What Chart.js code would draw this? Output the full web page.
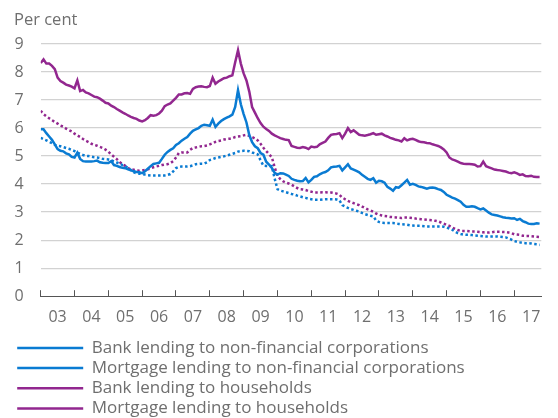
<!DOCTYPE html>
<html>
<head>
<meta charset="utf-8">
<script src="https://cdn.jsdelivr.net/npm/chart.js@4"></script>
<style>
  html, body { margin: 0; padding: 0; background: #fff; overflow: hidden; }
  #wrap { width: 558px; height: 427px; }
</style>
</head>
<body>
<div id="wrap"><canvas id="chart" width="558" height="427"></canvas></div>
<script>
// monthly values, Jan 2003 onwards
const startYear = 2003;
const yearLabels = ['03', '04', '05', '06', '07', '08', '09', '10', '11', '12', '13', '14', '15', '16', '17'];
const seriesNames = [
  'Bank lending to non-financial corporations',
  'Mortgage lending to non-financial corporations',
  'Bank lending to households',
  'Mortgage lending to households'
];

const nfcBank = [
  5.96, 5.96, 5.82, 5.70, 5.58, 5.42, 5.25, 5.19, 5.17, 5.10, 5.06, 4.97,
  4.95, 5.12, 4.90, 4.82, 4.81, 4.81, 4.81, 4.82, 4.84, 4.78, 4.76, 4.75,
  4.75, 4.82, 4.68, 4.65, 4.61, 4.58, 4.57, 4.53, 4.49, 4.46, 4.43, 4.42,
  4.39, 4.46, 4.55, 4.64, 4.72, 4.74, 4.76, 4.90, 5.05, 5.15, 5.22, 5.28,
  5.40, 5.46, 5.55, 5.62, 5.68, 5.80, 5.90, 5.95, 6.00, 6.08, 6.12, 6.10,
  6.08, 6.30, 6.04, 6.16, 6.25, 6.32, 6.37, 6.42, 6.48, 6.75, 7.35, 6.85,
  6.50, 6.20, 5.75, 5.50, 5.35, 5.28, 5.11, 5.05, 4.80, 4.70, 4.58, 4.40,
  4.34, 4.39, 4.38, 4.34, 4.29, 4.19, 4.15, 4.12, 4.10, 4.11, 4.22, 4.06,
  4.15, 4.26, 4.28, 4.35, 4.40, 4.43, 4.49, 4.60, 4.62, 4.63, 4.65, 4.49,
  4.60, 4.71, 4.56, 4.52, 4.47, 4.42, 4.33, 4.26, 4.19, 4.15, 4.21, 4.05,
  4.12, 4.10, 4.05, 3.90, 3.84, 3.76, 3.89, 3.87, 3.96, 4.05, 4.15, 3.98,
  4.01, 3.97, 3.92, 3.90, 3.87, 3.84, 3.87, 3.88, 3.86, 3.82, 3.79, 3.72,
  3.62, 3.57, 3.52, 3.48, 3.43, 3.37, 3.26, 3.19, 3.19, 3.21, 3.19, 3.14,
  3.10, 3.13, 3.06, 2.98, 2.92, 2.90, 2.88, 2.85, 2.82, 2.80, 2.79, 2.77,
  2.78, 2.72, 2.76, 2.68, 2.64, 2.59, 2.58, 2.58, 2.60, 2.59
];

const nfcMortgage = [
  5.65, 5.60, 5.56, 5.51, 5.46, 5.40, 5.37, 5.35, 5.32, 5.29, 5.26, 5.22,
  5.18, 5.12, 5.08, 5.04, 5.01, 5.00, 4.98, 4.96, 4.95, 4.93, 4.90, 4.89,
  4.88, 4.85, 4.81, 4.77, 4.73, 4.68, 4.64, 4.58, 4.50, 4.43, 4.38, 4.37,
  4.36, 4.34, 4.32, 4.31, 4.31, 4.31, 4.31, 4.31, 4.31, 4.33, 4.36, 4.45,
  4.57, 4.61, 4.63, 4.63, 4.63, 4.64, 4.67, 4.71, 4.72, 4.73, 4.73, 4.78,
  4.86, 4.89, 4.93, 4.95, 4.97, 4.99, 5.02, 5.05, 5.08, 5.11, 5.16, 5.18,
  5.19, 5.18, 5.17, 5.13, 5.10, 5.06, 4.85, 4.66, 4.65, 4.65, 4.64, 4.20,
  3.82, 3.77, 3.74, 3.71, 3.68, 3.65, 3.63, 3.59, 3.56, 3.53, 3.51, 3.48,
  3.46, 3.44, 3.44, 3.44, 3.45, 3.46, 3.46, 3.46, 3.46, 3.45, 3.42, 3.25,
  3.20, 3.15, 3.11, 3.08, 3.05, 3.02, 2.97, 2.93, 2.90, 2.87, 2.85, 2.70,
  2.65, 2.62, 2.61, 2.61, 2.61, 2.61, 2.60, 2.58, 2.57, 2.56, 2.55, 2.53,
  2.52, 2.51, 2.51, 2.51, 2.50, 2.49, 2.49, 2.49, 2.49, 2.49, 2.49, 2.48,
  2.45, 2.41, 2.37, 2.30, 2.25, 2.22, 2.20, 2.19, 2.19, 2.18, 2.17, 2.16,
  2.15, 2.14, 2.13, 2.13, 2.13, 2.13, 2.13, 2.12, 2.11, 2.10, 2.06, 2.02,
  1.97, 1.94, 1.92, 1.90, 1.89, 1.89, 1.88, 1.86, 1.85, 1.83
];

const hhBank = [
  8.32, 8.45, 8.30, 8.30, 8.22, 8.10, 7.80, 7.68, 7.62, 7.55, 7.52, 7.48,
  7.42, 7.70, 7.32, 7.36, 7.27, 7.24, 7.18, 7.12, 7.10, 7.05, 6.98, 6.90,
  6.88, 6.80, 6.75, 6.68, 6.62, 6.56, 6.51, 6.45, 6.40, 6.36, 6.33, 6.27,
  6.24, 6.28, 6.36, 6.46, 6.44, 6.46, 6.52, 6.62, 6.78, 6.84, 6.88, 6.98,
  7.08, 7.20, 7.20, 7.24, 7.25, 7.22, 7.40, 7.46, 7.48, 7.49, 7.47, 7.46,
  7.50, 7.80, 7.58, 7.66, 7.72, 7.78, 7.80, 7.85, 7.88, 8.35, 8.78, 8.30,
  7.95, 7.70, 7.30, 6.75, 6.55, 6.35, 6.18, 6.05, 5.97, 5.90, 5.80, 5.74,
  5.69, 5.64, 5.61, 5.58, 5.57, 5.36, 5.33, 5.30, 5.29, 5.32, 5.30, 5.25,
  5.34, 5.32, 5.33, 5.42, 5.47, 5.52, 5.65, 5.76, 5.78, 5.79, 5.82, 5.64,
  5.80, 6.00, 5.86, 5.92, 5.84, 5.76, 5.74, 5.73, 5.75, 5.78, 5.82, 5.76,
  5.78, 5.80, 5.74, 5.70, 5.65, 5.62, 5.58, 5.56, 5.52, 5.64, 5.56, 5.60,
  5.62, 5.58, 5.53, 5.50, 5.49, 5.47, 5.46, 5.42, 5.39, 5.36, 5.31, 5.24,
  5.13, 4.95, 4.88, 4.85, 4.80, 4.75, 4.73, 4.72, 4.72, 4.71, 4.69, 4.63,
  4.64, 4.80, 4.64, 4.60, 4.56, 4.52, 4.50, 4.49, 4.47, 4.45, 4.41, 4.39,
  4.42, 4.38, 4.33, 4.35, 4.29, 4.28, 4.30, 4.26, 4.25, 4.25
];

const hhMortgage = [
  6.62, 6.50, 6.42, 6.35, 6.28, 6.22, 6.16, 6.09, 6.05, 5.98, 5.93, 5.88,
  5.80, 5.74, 5.68, 5.61, 5.55, 5.50, 5.44, 5.40, 5.37, 5.33, 5.29, 5.23,
  5.16, 5.06, 4.98, 4.89, 4.79, 4.71, 4.65, 4.57, 4.53, 4.51, 4.49, 4.48,
  4.49, 4.51, 4.53, 4.56, 4.60, 4.63, 4.65, 4.68, 4.70, 4.71, 4.75, 4.82,
  4.95, 5.11, 5.13, 5.13, 5.13, 5.22, 5.29, 5.31, 5.33, 5.35, 5.36, 5.38,
  5.42, 5.46, 5.51, 5.54, 5.56, 5.59, 5.61, 5.62, 5.64, 5.68, 5.70, 5.71,
  5.74, 5.76, 5.72, 5.68, 5.63, 5.56, 5.44, 5.30, 5.18, 5.07, 4.96, 4.60,
  4.30, 4.18, 4.10, 4.05, 4.02, 3.98, 3.92, 3.86, 3.82, 3.81, 3.79, 3.75,
  3.73, 3.70, 3.70, 3.70, 3.71, 3.71, 3.70, 3.70, 3.68, 3.66, 3.62, 3.52,
  3.46, 3.40, 3.36, 3.32, 3.28, 3.25, 3.20, 3.15, 3.10, 3.06, 3.01, 2.95,
  2.91, 2.88, 2.86, 2.85, 2.83, 2.82, 2.81, 2.80, 2.79, 2.81, 2.81, 2.80,
  2.79, 2.77, 2.76, 2.75, 2.74, 2.73, 2.72, 2.71, 2.69, 2.67, 2.63, 2.59,
  2.55, 2.51, 2.45, 2.40, 2.36, 2.33, 2.33, 2.33, 2.32, 2.31, 2.31, 2.30,
  2.29, 2.28, 2.27, 2.27, 2.28, 2.30, 2.30, 2.30, 2.29, 2.29, 2.27, 2.25,
  2.21, 2.20, 2.19, 2.16, 2.15, 2.15, 2.14, 2.13, 2.12, 2.11
];

const blue = '#0a7bd2';
const purple = '#92278f';
const textGrey = '#6f6f6f';

const toPoints = (vals) => vals.map((v, i) => ({ x: startYear + i / 12, y: v }));

Chart.defaults.font.family = "'Open Sans', sans-serif";
Chart.defaults.font.size = 16;
Chart.defaults.color = textGrey;

new Chart(document.getElementById('chart').getContext('2d'), {
  type: 'line',
  data: {
    datasets: [
      { label: seriesNames[0], data: toPoints(nfcBank), borderColor: blue, backgroundColor: blue, borderWidth: 2.5 },
      { label: seriesNames[1], data: toPoints(nfcMortgage), borderColor: blue, backgroundColor: blue, borderWidth: 2.5, borderDash: [2.5, 2.5] },
      { label: seriesNames[2], data: toPoints(hhBank), borderColor: purple, backgroundColor: purple, borderWidth: 2.5 },
      { label: seriesNames[3], data: toPoints(hhMortgage), borderColor: purple, backgroundColor: purple, borderWidth: 2.5, borderDash: [2.5, 2.5] }
    ]
  },
  options: {
    responsive: false,
    animation: false,
    devicePixelRatio: 1,
    elements: { point: { radius: 0 }, line: { tension: 0 } },
    layout: { padding: { left: 14, right: 0, top: 0, bottom: 0 } },
    plugins: {
      tooltip: { enabled: false },
      title: {
        display: true,
        text: 'Per cent',
        align: 'start',
        color: textGrey,
        font: { size: 16.5, weight: 'normal', lineHeight: 1.2 },
        padding: { top: 10, bottom: 14.2 }
      },
      legend: {
        position: 'bottom',
        align: 'start',
        labels: {
          usePointStyle: true,
          pointStyle: 'line',
          pointStyleWidth: 66,
          boxHeight: 17,
          padding: 3.2,
          color: textGrey,
          font: { size: 17 }
        }
      }
    },
    scales: {
      x: {
        type: 'linear',
        min: 2003,
        max: 2017.8,
        afterBuildTicks: (scale) => {
          const ticks = [];
          yearLabels.forEach((_, i) => {
            ticks.push({ value: startYear + i });
            ticks.push({ value: startYear + i + 0.5 });
          });
          scale.ticks = ticks;
        },
        afterFit: (scale) => { scale.height = 40; },
        grid: {
          drawOnChartArea: false,
          drawTicks: true,
          tickLength: -6,
          tickWidth: 1,
          tickColor: (ctx) => (ctx.tick && Number.isInteger(ctx.tick.value)) ? '#555555' : 'rgba(0,0,0,0)'
        },
        border: { display: true, color: '#555555', width: 1 },
        ticks: {
          autoSkip: false,
          maxRotation: 0,
          minRotation: 0,
          padding: 17.7,
          color: textGrey,
          font: { size: 16, lineHeight: 1.2 },
          callback: (value) => {
            if (Number.isInteger(value)) return '';
            return yearLabels[Math.floor(value) - startYear];
          }
        }
      },
      y: {
        min: 0,
        max: 9,
        afterFit: (scale) => { scale.width = 26.7; },
        border: { display: false },
        grid: {
          drawTicks: false,
          color: (ctx) => (ctx.tick && ctx.tick.value === 0) ? 'rgba(0,0,0,0)' : '#d2d2d2',
          lineWidth: 1.3
        },
        ticks: {
          stepSize: 1,
          padding: 17,
          color: textGrey,
          font: { size: 16 }
        }
      }
    }
  }
});
</script>
</body>
</html>
